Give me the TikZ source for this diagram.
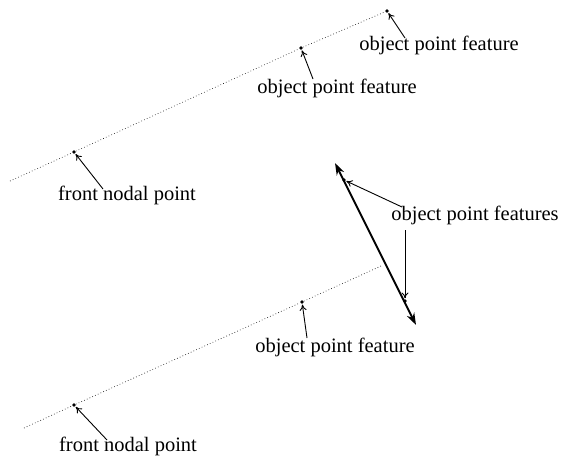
\documentclass[tikz,border=0pt]{standalone}
\usepackage{fontspec}
\setmainfont{Liberation Serif}
\usetikzlibrary{arrows.meta}

\begin{document}
\begin{tikzpicture}[x=1pt,y=-1pt,
  lbl/.style={font=\fontsize{20.5}{24}\selectfont, anchor=base, inner sep=0pt},
  pt/.style={circle, fill, inner sep=0pt, minimum size=3.8pt},
  ray/.style={dash pattern=on 0.7pt off 2.3pt, line width=0.7pt, black!85},
  pointer/.style={-{To[length=6pt,width=7pt]}, line width=0.9pt, shorten >=0.5pt},
  bigarrow/.style={{Stealth[length=12pt,width=8pt]}-{Stealth[length=12pt,width=8pt]}, line width=1.9pt}
]
\useasboundingbox (0,0) rectangle (564,460);

% upper viewing ray
\coordinate (r1s) at (10,181);
\node[pt] (fnp1) at (74,152) {};
\node[pt] (opf2) at (301,48) {};
\node[pt] (opf1) at (387,11) {};
\draw[ray] (r1s) -- (fnp1) -- (opf2) -- (opf1);

% lower viewing ray
\coordinate (r2s) at (24,428);
\coordinate (r2e) at (381,266);
\node[pt] (fnp2) at (74,405) {};
\node[pt] (opf3) at (302,302) {};
\draw[ray] (r2s) -- (fnp2) -- (opf3) -- (r2e);

% line segment between two object point features
\coordinate (sa) at (335,163);
\coordinate (sb) at (416,325);
\node[pt] (opfa) at (344,180) {};
\node[pt] (opfb) at (405,301) {};
\draw[bigarrow] (sa) -- (sb);

% labels
\node[lbl] (l1) at (439,50) {object point feature};
\node[lbl] (l2) at (337,93) {object point feature};
\node[lbl] (l3) at (127,200) {front nodal point};
\node[lbl] (l4) at (475,220) {object point features};
\node[lbl] (l5) at (335,352) {object point feature};
\node[lbl] (l6) at (128,451) {front nodal point};

% pointer tails
\coordinate (t1) at (405,38);
\coordinate (t2) at (313,79);
\coordinate (t3) at (103,189);
\coordinate (t4a) at (402,207);
\coordinate (t4b) at (405,230);
\coordinate (t5) at (307,338);
\coordinate (t6) at (107,440);

\draw[pointer] (t1) -- (opf1);
\draw[pointer] (t2) -- (opf2);
\draw[pointer] (t3) -- (fnp1);
\draw[pointer] (t4a) -- (opfa);
\draw[pointer] (t4b) -- (opfb);
\draw[pointer] (t5) -- (opf3);
\draw[pointer] (t6) -- (fnp2);
\end{tikzpicture}
\end{document}
